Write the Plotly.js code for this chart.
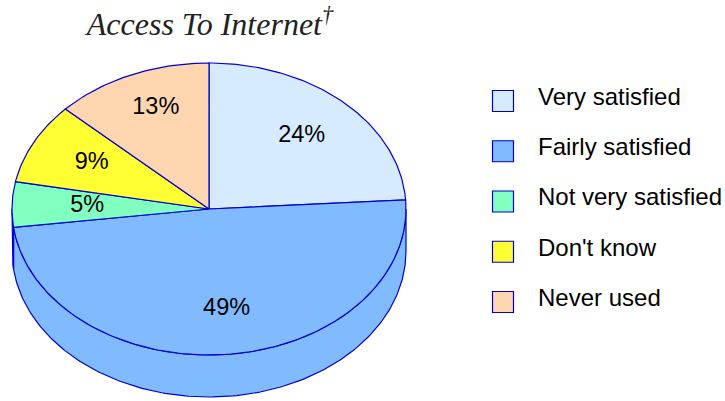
<!DOCTYPE html>
<html><head><meta charset="utf-8">
<script src="https://cdn.plot.ly/plotly-3.0.1.min.js"></script>
<style>html,body{margin:0;padding:0;background:#fff}#c{width:725px;height:401px}</style>
</head><body><div id="c"></div>
<script>
const categories = ["Very satisfied","Fairly satisfied","Not very satisfied","Don't know","Never used"];
const values = [24,49,5,9,13];
const colors = ["#D6EBFF","#80BBFF","#80FFC0","#FFFF33","#FFD6B0"];
const edge = "#0000D0";

// pie projection in pixel-scaled axis units
const cx=209, cy=209, rx=197, ry=146, depth=42;
const labelDx=[1,5,12,2,0], labelDy=[-1,1,0,-1,-10];
const labelR=0.68;
const total=values.reduce((a,b)=>a+b,0);
const px=(d)=>cx+rx*Math.sin(d*Math.PI/180);
const py=(d,o=0)=>cy-ry*Math.cos(d*Math.PI/180)+o;
const traces=[];
function arc(a,b,o){const xs=[],ys=[];const n=Math.max(2,Math.ceil(Math.abs(b-a)));
  for(let i=0;i<=n;i++){const d=a+(b-a)*i/n;xs.push(px(d));ys.push(py(d,o));}return [xs,ys];}
let start=0; const spans=values.map(v=>{const s=[start,start+v/total*360];start=s[1];return s;});
// side walls (front half only: 90..270 degrees clockwise from top)
spans.forEach((s,i)=>{
  const a=Math.max(s[0],90), b=Math.min(s[1],270);
  if(b<=a) return;
  const [x1,y1]=arc(a,b,0), [x2,y2]=arc(b,a,depth);
  traces.push({type:'scatter',mode:'lines',x:x1.concat(x2,[x1[0]]),y:y1.concat(y2,[y1[0]]),
    fill:'toself',fillcolor:colors[i],line:{color:edge,width:1.2},hoverinfo:'skip',showlegend:false});
});
// top faces
spans.forEach((s,i)=>{
  const [x,y]=arc(s[0],s[1],0);
  traces.push({type:'scatter',mode:'lines',x:[cx].concat(x,[cx]),y:[cy].concat(y,[cy]),
    fill:'toself',fillcolor:colors[i],line:{color:edge,width:1.2},name:categories[i],showlegend:false,hoverinfo:'name'});
});
// percentage labels
traces.push({type:'scatter',mode:'text',
  x:spans.map((s,i)=>cx+(px((s[0]+s[1])/2)-cx)*labelR+labelDx[i]),
  y:spans.map((s,i)=>cy+(py((s[0]+s[1])/2)-cy)*labelR+labelDy[i]),
  text:values.map(v=>v+"%"),textposition:'middle center',
  textfont:{family:'"Liberation Sans",Arial,sans-serif',size:23.5,color:'#000'},hoverinfo:'skip',showlegend:false});
// legend
const rowY=categories.map((c,i)=>101+i*50.25);
traces.push({type:'scatter',mode:'markers',x:categories.map(()=>503),y:rowY,
  marker:{symbol:'square',size:21,color:colors,line:{color:edge,width:1.2}},hoverinfo:'skip',showlegend:false});
traces.push({type:'scatter',mode:'text',x:categories.map(()=>538),y:rowY.map(v=>v-2.2),text:categories,
  textposition:'middle right',textfont:{family:'"Liberation Sans",Arial,sans-serif',size:24,color:'#000'},
  hoverinfo:'skip',showlegend:false});

const hidden={visible:false,fixedrange:true};
Plotly.newPlot('c',traces,{
  width:725,height:401,margin:{l:0,r:0,t:0,b:0},
  paper_bgcolor:'#fff',plot_bgcolor:'#fff',showlegend:false,
  xaxis:{...hidden,range:[0,725]},
  yaxis:{...hidden,range:[401,0]},
  title:{text:"<i>Access To Internet<sup>†</sup></i>",x:210/725,xanchor:'center',xref:'paper',
    y:1-24/401,yanchor:'middle',yref:'container',
    font:{family:'"Liberation Serif","Times New Roman",serif',size:32,color:'#222'}}
},{displayModeBar:false,staticPlot:true});
</script></body></html>
